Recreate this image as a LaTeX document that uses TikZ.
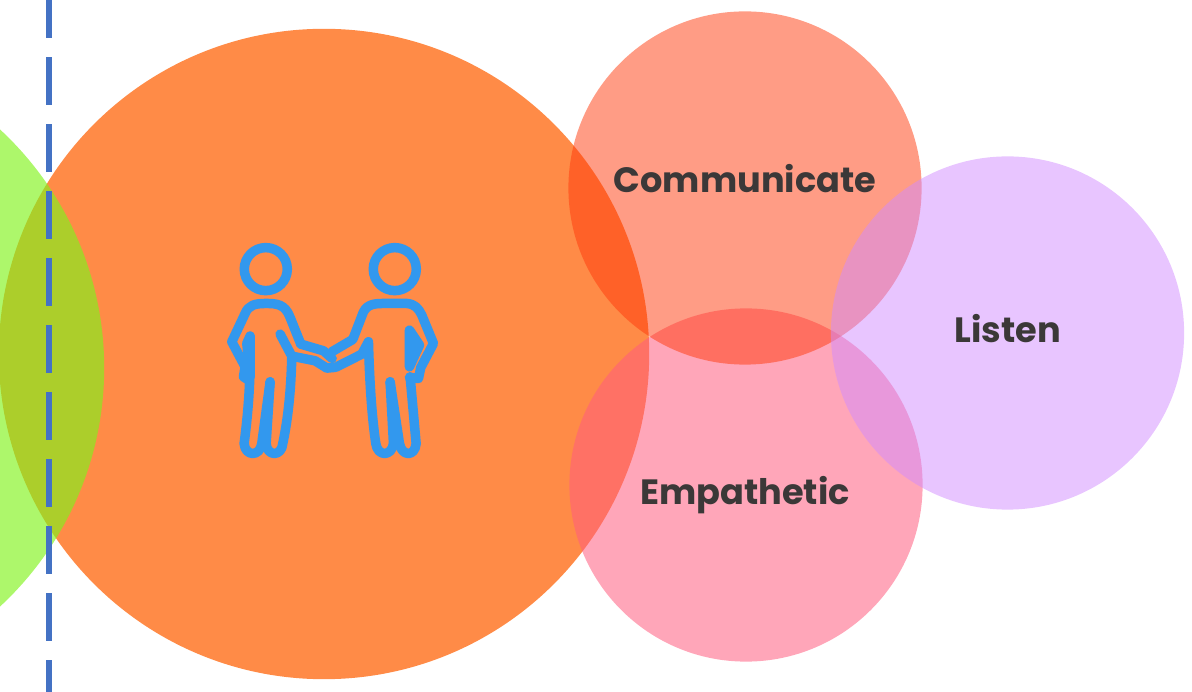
\documentclass[tikz,border=0pt]{standalone}
\usepackage{fontspec}
\setmainfont{Poppins}
\definecolor{orangeC}{RGB}{255,106,19}
\definecolor{greenC}{RGB}{129,243,28}
\definecolor{commC}{RGB}{255,57,11}
\definecolor{empC}{RGB}{255,93,127}
\definecolor{listenC}{RGB}{209,139,255}
\definecolor{iconC}{RGB}{50,152,238}
\definecolor{dashC}{RGB}{68,114,196}
\definecolor{textC}{RGB}{59,56,56}

\begin{document}
\begin{tikzpicture}[x=0.01cm, y=-0.01cm,
                    bubble/.style={circle,draw=none,inner sep=0pt},
                    word/.style={font=\fontsize{10pt}{12pt}\selectfont\bfseries,text=textC,inner sep=0pt},
                    figure line/.style={draw=iconC,line width=2.7pt,line cap=round,line join=round}]

  \useasboundingbox (0,0) rectangle (1192,692);

  \node[bubble,fill=orangeC,fill opacity=.78,minimum size=6.5cm] (team) at (324,354) {};
  \node[bubble,fill=greenC,fill opacity=.65,minimum size=6.5cm] (left) at (-221,368) {};
  \node[bubble,fill=empC,fill opacity=.55,minimum size=3.53cm] (emp) at (746,485) {};
  \node[bubble,fill=commC,fill opacity=.5,minimum size=3.53cm] (comm) at (745,188) {};
  \node[bubble,fill=listenC,fill opacity=.5,minimum size=3.53cm] (listen) at (1007.5,333) {};

  \node[word] (commtext) at (745,179) {Communicate};
  \node[word] (emptext) at (745,495) {Empathetic};
  \node[word] (listentext) at (1008,329) {Listen};

  \coordinate (linetop) at (48.7,-10);
  \coordinate (linebottom) at (48.7,700);
  \draw[dashC,line width=0.06cm,dash pattern=on 0.48cm off 0.19cm] (linetop) -- (linebottom);

  % two people shaking hands
  \begin{scope}[xshift=2.1cm,yshift=-2.3cm,x=0.01cm/3,y=-0.01cm/3]
    \node[circle,figure line,minimum size=0.43cm,inner sep=0pt] (headleft) at (167,117) {};
    \node[circle,figure line,minimum size=0.43cm,inner sep=0pt] (headright) at (554,117) {};
    % left person
    \draw[figure line] (272,342) -- (240,262) .. controls (225,222) and (200,220) .. (167,220)
      .. controls (135,220) and (115,225) .. (105,250) -- (65,335) -- (105,410) -- (100,440) -- (118,452);
    \draw[figure line] (272,342) -- (340,362) -- (366,385);
    \draw[figure line] (210,312) -- (245,378) -- (315,392) -- (350,414) -- (372,412);
    \draw[figure line] (245,378) .. controls (243,470) and (235,560) .. (218,640)
      .. controls (215,680) and (170,680) .. (168,640) -- (180,455);
    \draw[figure line] (180,455) -- (155,640) .. controls (150,680) and (105,680) .. (102,640)
      .. controls (115,540) and (122,450) .. (120,318);
    \draw[figure line,fill=iconC] (120,318) -- (110,340) -- (120,440) -- cycle;
    % right person
    \draw[figure line] (365,365) -- (428,328) -- (455,258) .. controls (465,225) and (485,220) .. (520,220)
      -- (590,220) .. controls (615,222) and (625,235) .. (635,255) -- (670,340) -- (632,412) -- (625,445) -- (598,442);
    \draw[figure line] (475,335) -- (455,372) -- (380,410) -- (372,412);
    \draw[figure line] (475,335) .. controls (478,450) and (485,560) .. (497,640)
      .. controls (502,680) and (545,680) .. (550,640) -- (540,455);
    \draw[figure line] (540,455) -- (568,640) .. controls (575,680) and (615,680) .. (618,640)
      -- (600,440);
    \draw[figure line,fill=iconC] (598,300) -- (628,345) -- (598,410) -- cycle;
  \end{scope}

\end{tikzpicture}
\end{document}
